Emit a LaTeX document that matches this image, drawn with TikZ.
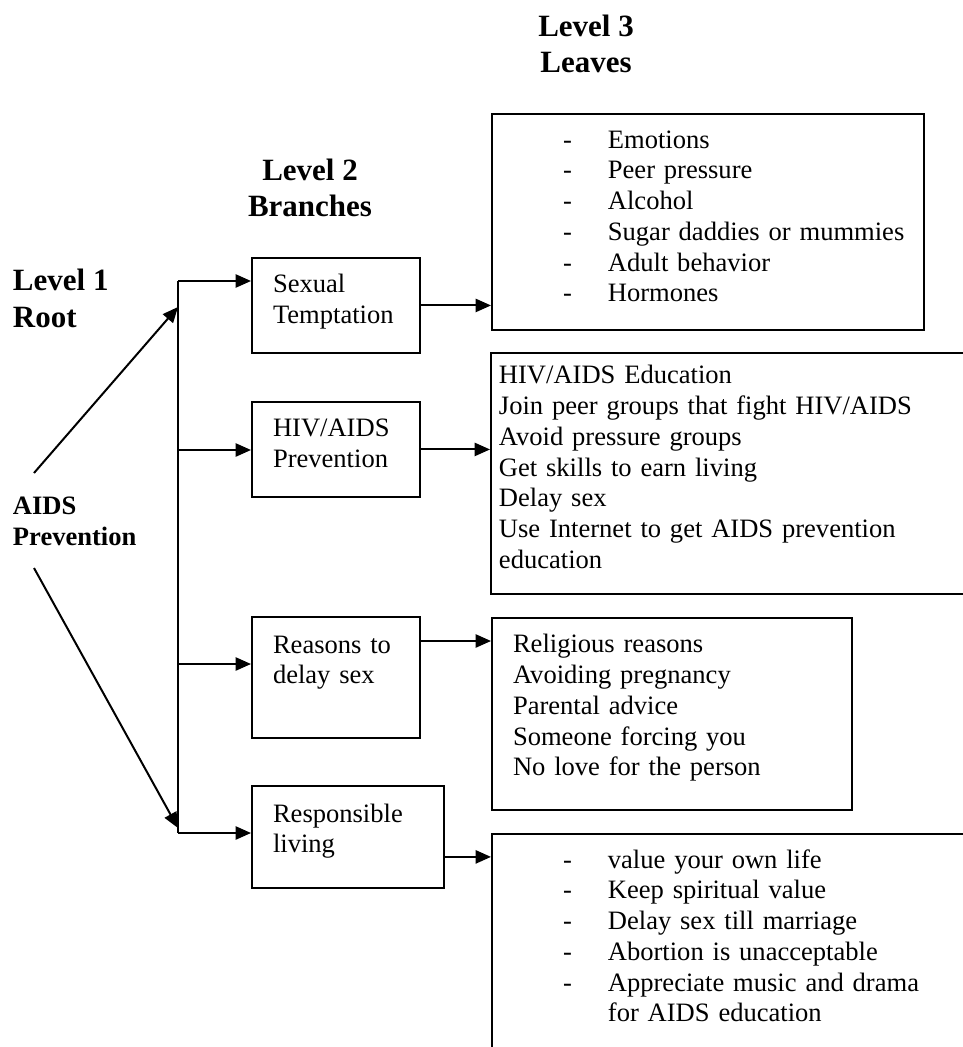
\documentclass[tikz,border=0pt]{standalone}
\usepackage{fontspec}
\setmainfont{Liberation Serif}
\usetikzlibrary{arrows.meta}

\newcommand{\dashline}[1]{\hspace*{32.1pt}\makebox[20.3pt][l]{-}#1}

\begin{document}
\begin{tikzpicture}[x=0.452pt, y=-0.452pt,
					>={Triangle[length=7pt, width=6pt]},
					line width=0.9pt,
					every node/.style={font=\fontsize{12}{13.9}\selectfont},
					heading/.style={font=\fontsize{14}{16.7}\selectfont\bfseries, inner sep=0pt},
					branch/.style={draw, anchor=north west, align=left, inner xsep=9.5pt, inner ysep=0pt, text width=56.9pt, text height=15.8pt},
					leaf/.style={draw, anchor=north west, align=left, inner ysep=0pt}]

	\useasboundingbox (0,0) rectangle (962,1047);

	% headings (base = last line)
	\node[heading, align=center, anchor=base] (lvlthree) at (586,73) {Level 3\\Leaves};
	\node[heading, align=center, anchor=base] (lvltwo) at (310,217) {Level 2\\Branches};
	\node[heading, align=left, anchor=base west] (lvlone) at (12,327) {Level 1\\Root};
	\node[heading, font=\fontsize{12}{13.9}\selectfont\bfseries, align=left, anchor=base west] (root) at (12,545) {AIDS\\Prevention};

	% level 2
	\node[branch, text depth=27.1pt] (sex) at (251,257) {Sexual\\Temptation};
	\node[branch, text depth=27.1pt] (hiv) at (251,401) {HIV/AIDS\\Prevention};
	\node[branch, text height=16.3pt, text depth=38.4pt] (rsn) at (251,616) {Reasons to\\delay sex};
	\node[branch, text width=67.8pt, text height=16.3pt, text depth=29.8pt] (resp) at (251,785) {Responsible\\living};

	% level 3
	\node[leaf, inner xsep=0pt, text width=195.3pt, text height=15.4pt, text depth=82.3pt] (lfsex) at (491,113)
		{\dashline{Emotions}\\\dashline{Peer pressure}\\\dashline{Alcohol}\\\dashline{Sugar daddies or mummies}\\\dashline{Adult behavior}\\\dashline{Hormones}};
	\node[leaf, inner xsep=3.6pt, text width=212pt, text height=14pt, text depth=94.9pt] (lfhiv) at (490,352)
		{HIV/AIDS Education\\Join peer groups that fight HIV/AIDS\\Avoid pressure groups\\Get skills to earn living\\Delay sex\\Use Internet to get AIDS prevention\\education};
	\node[leaf, inner xsep=9.5pt, text width=143.7pt, text height=15.8pt, text depth=71pt] (lfrsn) at (491,617)
		{Religious reasons\\Avoiding pregnancy\\Parental advice\\Someone forcing you\\No love for the person};
	\node[leaf, inner xsep=0pt, text width=219.2pt, text height=15.4pt, text depth=89.5pt] (lfresp) at (491,833)
		{\dashline{value your own life}\\\dashline{Keep spiritual value}\\\dashline{Delay sex till marriage}\\\dashline{Abortion is unacceptable}\\\dashline{Appreciate music and drama}\\\hspace*{52.4pt}for AIDS education};

	\coordinate (j1) at (178,281);
	\coordinate (j2) at (178,450);
	\coordinate (j3) at (178,664);
	\coordinate (j4) at (178,833);
	\coordinate (upfrom) at (34,473);
	\coordinate (upto) at (178,307);
	\coordinate (downfrom) at (34,568);
	\coordinate (downto) at (178,828);
	\coordinate (rsnout) at ([yshift=-11.3pt]rsn.north east);
	\coordinate (respout) at ([yshift=-32.5pt]resp.north east);

	\draw (j1) -- (j4);
	\draw[->] (upfrom) -- (upto);
	\draw[->] (downfrom) -- (downto);

	\draw[->] (j1) -- (j1 -| sex.west);
	\draw[->] (j2) -- (j2 -| hiv.west);
	\draw[->] (j3) -- (j3 -| rsn.west);
	\draw[->] (j4) -- (j4 -| resp.west);

	\draw[->] (sex.east) -- (sex.east -| lfsex.west);
	\draw[->] (hiv.east) -- (hiv.east -| lfhiv.west);
	\draw[->] (rsnout) -- (rsnout -| lfrsn.west);
	\draw[->] (respout) -- (respout -| lfresp.west);
\end{tikzpicture}
\end{document}
